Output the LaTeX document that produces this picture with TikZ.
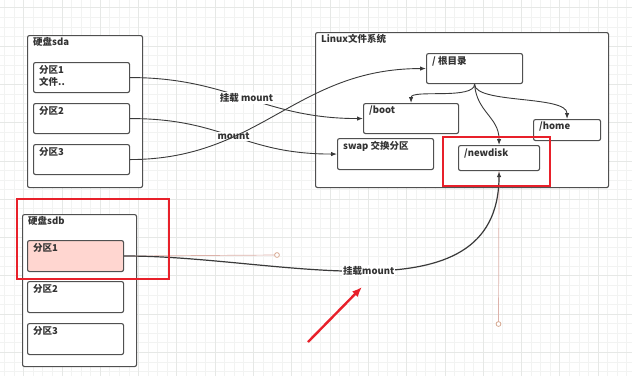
\documentclass[tikz,border=0pt]{standalone}
\usepackage{fontspec}
\setmainfont{Noto Sans CJK SC}
\usepackage{xcolor}
\usetikzlibrary{arrows.meta,positioning,calc}

\definecolor{boxline}{HTML}{505050}
\definecolor{linecol}{HTML}{3A3A3A}
\definecolor{textcol}{HTML}{333333}
\definecolor{pinkfill}{HTML}{FFD6D0}
\definecolor{hired}{HTML}{E8202A}
\definecolor{handlecol}{HTML}{DDB2AA}
\definecolor{gridminor}{HTML}{F2F3F2}
\definecolor{gridmajor}{HTML}{E6E8E6}

\begin{document}
\begin{tikzpicture}[x=1pt, y=-1pt, every node/.style={font=\fontsize{9.5}{12}\selectfont\bfseries, text=textcol},
  disk/.style={draw=boxline, line width=1.1pt, rounded corners=2pt, anchor=north west, inner sep=0pt},
  part/.style={disk, minimum width=96pt, minimum height=30pt},
  title/.style={anchor=north west, inner sep=0pt, align=left, xshift=6pt, yshift=-2pt},
  conn/.style={draw=linecol, line width=0.9pt, -{Latex[length=6pt,width=4.5pt]}},
  lab/.style={fill=white, inner sep=1pt},
  hilite/.style={draw=hired, line width=2.4pt},
  handle/.style={draw=handlecol, line width=0.7pt}]
\useasboundingbox (0,0) rectangle (632,376);
\fill[white] (0,0) rectangle (632,376);
\begin{scope}
\clip (0,0) rectangle (632,376);
\foreach \k in {-3,...,64} \draw[gridminor, line width=0.5pt] ({23.5+9.575*\k},0) -- ++(0,376);
\foreach \k in {-1,...,39} \draw[gridminor, line width=0.5pt] (0,{7.6+9.575*\k}) -- ++(632,0);
\foreach \k in {0,...,16} \draw[gridmajor, line width=0.6pt] ({23.5+38.3*\k},0) -- ++(0,376);
\foreach \k in {0,...,9} \draw[gridmajor, line width=0.6pt] (0,{7.6+38.3*\k}) -- ++(632,0);
\end{scope}

% disk sda
\node[disk, fill=white, minimum width=115pt, minimum height=152pt, label={[title]north west:硬盘sda}] (sda) at (27,35) {};
\foreach \i/\y/\t in {1/62/{分区1\\文件..},2/103/分区2,3/144/分区3}{
  \node[part, label={[title, yshift=-1pt]north west:\t}] (sda\i) at (33,\y) {};
}

% disk sdb
\node[disk, fill=white, minimum width=114pt, minimum height=152pt, label={[title]north west:硬盘sdb}] (sdb) at (22,214) {};
\node[part, fill=pinkfill, minimum height=31pt, label={[title, yshift=-1pt]north west:分区1}] (sdb1) at (27,240) {};
\node[part, minimum height=31pt, label={[title, yshift=-1pt]north west:分区2}] (sdb2) at (27,281) {};
\node[part, minimum height=31pt, label={[title, yshift=-1pt]north west:分区3}] (sdb3) at (27,323) {};

% linux file system
\node[disk, fill=white, minimum width=293pt, minimum height=155pt, label={[title]north west:Linux文件系统}] (linux) at (315,32) {};
\node[part, label={[title, yshift=-1pt]north west:/ 根目录}] (root) at (426,53) {};
\node[part, minimum width=95pt, label={[title, yshift=-1pt]north west:/boot}] (boot) at (363,103) {};
\node[part, minimum width=67pt, minimum height=21pt, label={[title, yshift=-1pt]north west:/home}] (home) at (533,119) {};
\node[part, minimum height=31pt, label={[title, yshift=-1pt]north west:swap 交换分区}] (swap) at (337,138) {};
\node[part, minimum width=81pt, minimum height=25pt, label={[title, yshift=-1pt]north west:/newdisk}] (newdisk) at (458,145) {};

% mounts of sda
\draw[conn] (sda1.east) .. controls +(100,0) and +(-100,0) .. node[lab]{挂载 mount} (boot.west);
\draw[conn] (sda2.east) .. controls +(95,0) and +(-95,0) .. node[lab]{mount} (swap.west);
\draw[conn] (sda3.east) .. controls +(130,0) and +(-130,0) .. (root.west);

% tree under root
\draw[conn] (root.south) .. controls +(0,16) and +(0,-14) .. (boot.north);
\draw[conn] (root.south) .. controls +(0,20) and +(0,-24) .. (home.north);
\draw[conn] (root.south) .. controls +(2,28) and +(0,-28) .. (newdisk.south |- newdisk.north);

% mount of sdb
\coordinate (h1) at (277,255);
\coordinate (h2) at (498.5,324);
\draw[handle] (sdb1.east) -- (h1);
\draw[handle] (newdisk.south) -- (h2);
\draw[draw=handlecol!70!brown, line width=0.7pt, fill=white] (h1) circle (2.4pt) (h2) circle (2.4pt);
\draw[conn, line width=1.2pt] (sdb1.east) .. controls (h1) and (h2) .. node[lab]{挂载mount} (newdisk.south);

% highlights
\draw[hilite] (17,199) rectangle (169,279);
\draw[hilite] (443,137) rectangle (550,186);
\coordinate (rtail) at (308,342);
\coordinate (rhead) at (362,287);
\draw[hilite, -{Latex[length=10pt,width=8pt]}] (rtail) -- (rhead);
\end{tikzpicture}
\end{document}
